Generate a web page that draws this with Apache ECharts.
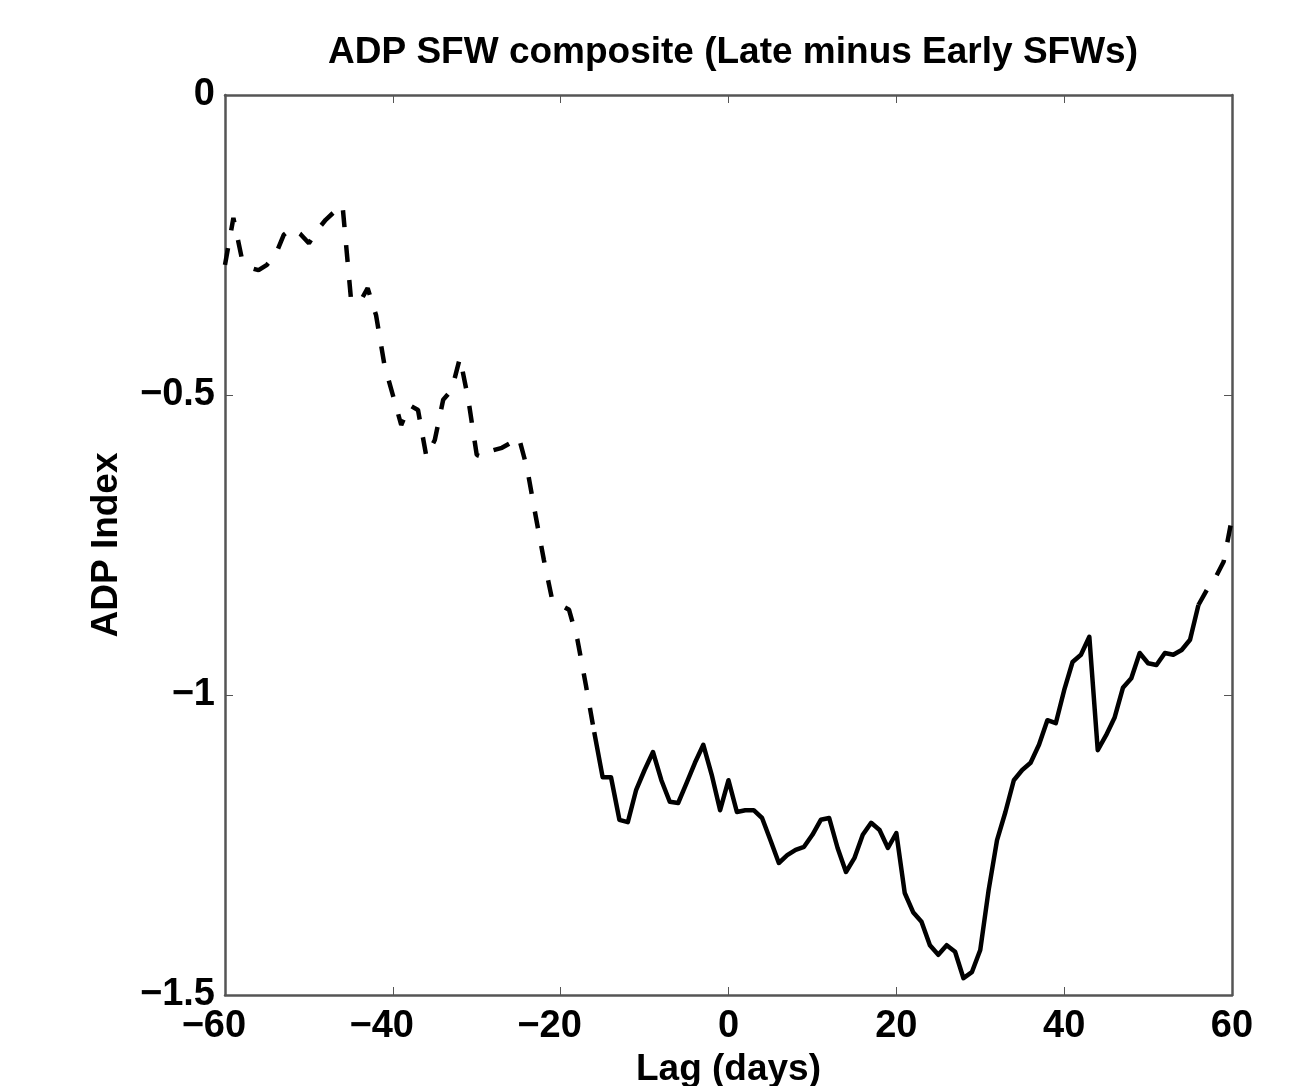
<!DOCTYPE html>
<html>
<head>
<meta charset="utf-8">
<script src="https://cdn.jsdelivr.net/npm/echarts@6/dist/echarts.min.js"></script>
<style>
html,body{margin:0;padding:0;background:#fff;}
#chart{width:1314px;height:1086px;}
</style>
</head>
<body>
<div id="chart"></div>
<script>
// Lag (days)
const lags = [];
for (let d = -60; d <= 60; d++) lags.push(d);

// ADP Index (Late minus Early SFWs), one value per lag day
const adp = [
  -0.283, -0.205, -0.272, -0.288, -0.292, -0.283, -0.267, -0.233, -0.222, -0.232,
  -0.247, -0.225, -0.208, -0.195, -0.183, -0.338, -0.347, -0.322, -0.367, -0.450,
  -0.500, -0.550, -0.517, -0.525, -0.603, -0.575, -0.508, -0.492, -0.438, -0.508,
  -0.600, -0.605, -0.592, -0.588, -0.580, -0.570, -0.622, -0.700, -0.775, -0.842,
  -0.850, -0.858, -0.908, -0.983, -1.062, -1.137, -1.137, -1.208, -1.212, -1.158,
  -1.125, -1.095, -1.142, -1.178, -1.180, -1.147, -1.113, -1.083, -1.133, -1.192,
  -1.142, -1.195, -1.192, -1.192, -1.205, -1.242, -1.280, -1.267, -1.258, -1.253,
  -1.233, -1.208, -1.205, -1.255, -1.295, -1.272, -1.233, -1.213, -1.225, -1.255,
  -1.230, -1.330, -1.362, -1.378, -1.417, -1.433, -1.417, -1.428, -1.472, -1.462,
  -1.425, -1.325, -1.242, -1.195, -1.142, -1.125, -1.113, -1.083, -1.042, -1.047,
  -0.992, -0.945, -0.933, -0.903, -1.092, -1.067, -1.038, -0.988, -0.972, -0.930,
  -0.947, -0.950, -0.930, -0.933, -0.925, -0.908, -0.850, -0.825, -0.805, -0.778,
  -0.705
];

// Significant period (solid line); outside it the curve is dashed
const sigStart = -16;
const sigEnd = 56;

// Axis ticks
const xTicks = [-60, -40, -20, 0, 20, 40, 60];
const yTicks = [-1.5, -1, -0.5, 0];

const solidData = lags.map((d, i) => (d >= sigStart && d <= sigEnd) ? [d, adp[i]] : [d, null]);
const dashData = lags.map((d, i) => (d <= sigStart || d >= sigEnd) ? [d, adp[i]] : [d, null]);

const FONT = 'Liberation Sans, Arial, Helvetica, sans-serif';
const MINUS = '\u2212';
const fmtY = v => String(v).replace('-', MINUS);
// center the digits on the tick (minus hangs to the left), like MATLAB
const fmtX = v => v < 0 ? MINUS + String(-v) + '{h|' + MINUS + '}' : String(v);
const frameColor = '#555';

const chart = echarts.init(document.getElementById('chart'), null, {renderer: 'canvas'});
chart.setOption({
  backgroundColor: '#ffffff',
  animation: false,
  title: {
    text: 'ADP SFW composite (Late minus Early SFWs)',
    left: 728, textAlign: 'center', top: 29,
    textStyle: {fontFamily: FONT, fontWeight: 'bold', fontSize: 37, color: '#000'}
  },
  grid: {left: 225, right: 82, top: 95, bottom: 91, containLabel: false, outerBoundsMode: 'none'},
  xAxis: [
    {
      type: 'value', position: 'bottom',
      min: xTicks[0], max: xTicks[xTicks.length - 1], interval: 20,
      name: 'Lag (days)', nameLocation: 'middle', nameGap: 55,
      nameTextStyle: {fontFamily: FONT, fontWeight: 'bold', fontSize: 37, color: '#000'},
      axisLine: {show: true, onZero: false, lineStyle: {color: frameColor, width: 2.5}},
      axisTick: {show: true, inside: true, length: 8, lineStyle: {color: frameColor, width: 1}},
      axisLabel: {
        fontFamily: FONT, fontWeight: 'bold', fontSize: 38, color: '#000', margin: 13, formatter: fmtX,
        rich: {h: {fontFamily: FONT, fontWeight: 'bold', fontSize: 38, color: 'rgba(0,0,0,0)'}}
      },
      splitLine: {show: false}
    },
    {
      type: 'value', position: 'top',
      min: xTicks[0], max: xTicks[xTicks.length - 1], interval: 20,
      axisLine: {show: true, onZero: false, lineStyle: {color: frameColor, width: 2.5}},
      axisTick: {show: true, inside: true, length: 8, lineStyle: {color: frameColor, width: 1}},
      axisLabel: {show: false},
      splitLine: {show: false}
    }
  ],
  yAxis: [
    {
      type: 'value', position: 'left',
      min: yTicks[0], max: yTicks[yTicks.length - 1], interval: 0.5,
      name: 'ADP Index', nameLocation: 'middle', nameGap: 100, nameRotate: 90,
      nameTextStyle: {fontFamily: FONT, fontWeight: 'bold', fontSize: 37, color: '#000'},
      axisLine: {show: true, onZero: false, lineStyle: {color: frameColor, width: 2.5}},
      axisTick: {show: true, inside: true, length: 8, lineStyle: {color: frameColor, width: 1}},
      axisLabel: {fontFamily: FONT, fontWeight: 'bold', fontSize: 38, color: '#000', margin: 10, formatter: fmtY},
      splitLine: {show: false}
    },
    {
      type: 'value', position: 'right',
      min: yTicks[0], max: yTicks[yTicks.length - 1], interval: 0.5,
      axisLine: {show: true, onZero: false, lineStyle: {color: frameColor, width: 2.5}},
      axisTick: {show: true, inside: true, length: 8, lineStyle: {color: frameColor, width: 1}},
      axisLabel: {show: false},
      splitLine: {show: false}
    }
  ],
  series: [
    {
      type: 'line', name: 'not significant', xAxisIndex: 0, yAxisIndex: 0,
      data: dashData, showSymbol: false, connectNulls: false,
      lineStyle: {color: '#000', width: 4.5, type: [17, 18], cap: 'butt'}
    },
    {
      type: 'line', name: 'significant', xAxisIndex: 0, yAxisIndex: 0,
      data: solidData, showSymbol: false, connectNulls: false,
      lineStyle: {color: '#000', width: 4.5, type: 'solid', join: 'round'}
    }
  ]
});
</script>
</body>
</html>
